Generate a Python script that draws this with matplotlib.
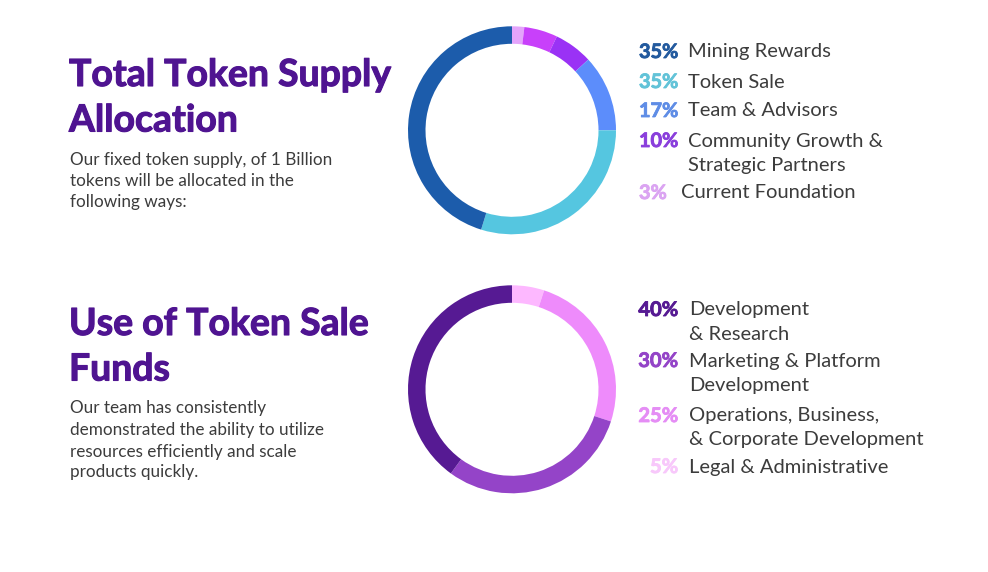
import matplotlib
matplotlib.use("Agg")
import matplotlib.pyplot as plt
import matplotlib.patheffects as pe

W, H = 988, 572

# slice shares as drawn, clockwise from 12 o'clock (the rings don't follow the printed %)
supply_shares = [1.9, 5.2, 6.0, 11.9, 29.8, 45.2]
supply_colors = ["#e4a4fb", "#c840fa", "#9a32f5", "#5c8dfb", "#55c6e0", "#1c5cab"]
funds_shares = [5, 25, 30, 40]
funds_colors = ["#fdb8ff", "#ee8bfb", "#9444c8", "#561a93"]

supply_title = ["Total Token Supply", "Allocation"]
supply_body = ["Our fixed token supply, of 1 Billion", "tokens will be allocated in the", "following ways:"]
funds_title = ["Use of Token Sale", "Funds"]
funds_body = ["Our team has consistently", "demonstrated the ability to utilize",
              "resources efficiently and scale", "products quickly."]

supply_pct = ["35%", "35%", "17%", "10%", "3%"]
supply_pct_colors = ["#235a9e", "#62c3d8", "#5f8de6", "#8a3fdc", "#dba4f2"]
supply_labels = ["Mining Rewards", "Token Sale", "Team & Advisors",
                 "Community Growth &\nStrategic Partners", "Current Foundation"]

funds_pct = ["40%", "30%", "25%", "5%"]
funds_pct_colors = ["#561a93", "#9444c8", "#e58df5", "#f8c8fb"]
funds_labels = ["Development\n& Research", "Marketing & Platform\nDevelopment",
                "Operations, Business,\n& Corporate Development", "Legal & Administrative"]

PURPLE = "#4f1491"
TEXT = "#3c3c3c"

plt.rcParams["font.family"] = ["Lato", "DejaVu Sans"]
fig = plt.figure(figsize=(W / 100, H / 100), dpi=100)

# overlay in pixel coords for the text
bg = fig.add_axes([0, 0, 1, 1])
bg.set_xlim(0, W)
bg.set_ylim(H, 0)
bg.axis("off")


def ring(cx, cy, r, shares, colors):
    ax = fig.add_axes([(cx - r) / W, 1 - (cy + r) / H, 2 * r / W, 2 * r / H])
    ax.pie(shares, colors=colors, startangle=90, counterclock=False, radius=1,
           wedgeprops={"width": 17.5 / r, "linewidth": 0})
    ax.set_xlim(-1, 1)
    ax.set_ylim(-1, 1)


def heavy(t, w):
    # bold face alone comes out thinner than the reference, thicken with a stroke
    t.set_path_effects([pe.withStroke(linewidth=w, foreground=t.get_color())])


ring(512, 130.3, 104, supply_shares, supply_colors)
ring(512, 389.3, 104, funds_shares, funds_colors)

for txt, y in zip(supply_title + funds_title, [75.5, 121, 324.5, 370]):
    t = bg.text(69, y, txt, fontsize=26.9, fontweight="bold", color=PURPLE, va="center", ha="left")
    heavy(t, 0.8)
for txt, y in zip(supply_body + funds_body, [160.5, 181.5, 202.5, 408.5, 429.5, 451.5, 472.5]):
    bg.text(70, y, txt, fontsize=12.3, color=TEXT, va="center", ha="left")

# legends: pct x, label x, y of each text line
for pct, col, lab, y, lx in zip(supply_pct, supply_pct_colors, supply_labels,
                                [52, 82, 111, 141, 193], [688, 688, 688, 688, 681]):
    t = bg.text(639, y, pct, fontsize=14.3, fontweight="bold", color=col, va="center", ha="left")
    heavy(t, 0.6)
    for i, line in enumerate(lab.split("\n")):
        bg.text(lx, y + i * 24, line, fontsize=14.5, color=TEXT, va="center", ha="left")

for pct, col, lab, y in zip(funds_pct, funds_pct_colors, funds_labels, [310, 361, 416, 467]):
    t = bg.text(678, y, pct, fontsize=14.5, fontweight="bold", color=col, va="center", ha="right")
    heavy(t, 0.6)
    for i, line in enumerate(lab.split("\n")):
        bg.text(689, y + i * 24, line, fontsize=14.5, color=TEXT, va="center", ha="left")

fig.savefig("out.png", dpi=100)
